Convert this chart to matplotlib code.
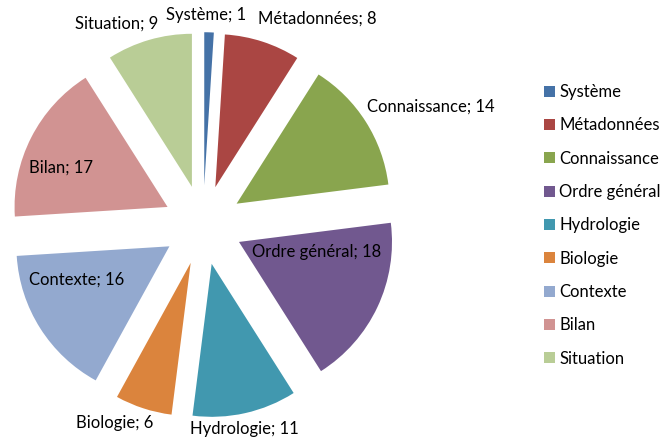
import matplotlib
matplotlib.use('Agg')
import matplotlib.pyplot as plt
import numpy as np

categories = ['Système', 'Métadonnées', 'Connaissance', 'Ordre général',
              'Hydrologie', 'Biologie', 'Contexte', 'Bilan', 'Situation']
values = [1, 8, 14, 18, 11, 6, 16, 17, 9]

colors = ['#4572A7', '#AA4643', '#89A54E', '#71588F', '#4198AF',
          '#DB843D', '#93A9CF', '#D19392', '#B9CD96']

# label placement: radial distance (pie radius units) and angle shift (deg, clockwise)
label_dist = [1.37, 1.54, 1.68, 0.76, 1.36, 1.42, 0.90, 1.00, 1.43]
label_shift = [-1, 11, 5, -12, 1, 6, 9, -5, -7]

plt.rcParams['font.family'] = ['Lato', 'DejaVu Sans']
FS = 12

fig = plt.figure(figsize=(6.67, 4.37), dpi=100)
W, H = 667, 437
cx, cy, R = 203, 225, 153
L = 1.3
half = L * R
ax = fig.add_axes([(cx - half) / W, (H - cy - half) / H, 2 * half / W, 2 * half / H])

explode = [0.26] * len(values)
wedges, _ = ax.pie(values, colors=colors, explode=explode, startangle=90,
                   counterclock=False, radius=1, wedgeprops=dict(linewidth=0))
ax.set_xlim(-L, L)
ax.set_ylim(-L, L)
ax.set_aspect('equal')
ax.axis('off')

for w, cat, v, d, s in zip(wedges, categories, values, label_dist, label_shift):
    mid = np.deg2rad((w.theta1 + w.theta2) / 2 - s)
    ax.text(d * np.cos(mid), d * np.sin(mid), f'{cat}; {v}', ha='center', va='center',
            fontsize=FS, color='black', clip_on=False)

fig.legend(wedges, categories, loc='upper left',
           bbox_to_anchor=(544 / W, 1 - 84 / H), frameon=False, fontsize=FS,
           handlelength=0.66, handleheight=0.66, handletextpad=0.25,
           labelspacing=1.04, borderpad=0, borderaxespad=0)

fig.savefig('out.png', dpi=100)
